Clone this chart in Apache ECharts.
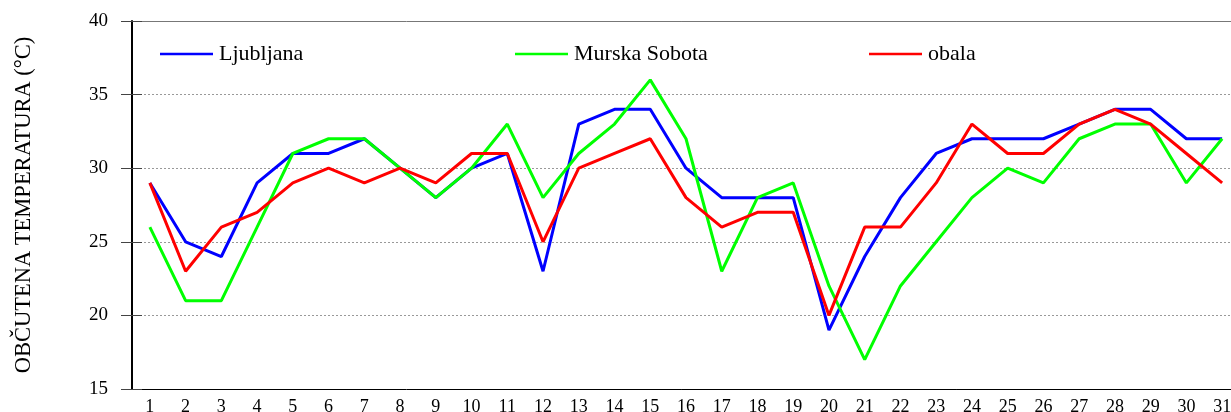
<!DOCTYPE html>
<html lang="sl">
	<head>
		<meta charset="UTF-8">
		<title>Občutena temperatura</title>
		<script src="https://cdn.jsdelivr.net/npm/echarts@6/dist/echarts.min.js"></script>
		<style>
			html, body {
				margin: 0;
				padding: 0;
				background: #fff;
			}
			#main {
				width: 1231px;
				height: 412px;
			}
		</style>
	</head>

	<body>
		<div id="main"></div>
	</body>

	<script>
		// dnevi v mesecu
		const days = [];
		for (let d = 1; d <= 31; d++) days.push(String(d));

		const ljubljana = [29, 25, 24, 29, 31, 31, 32, 30, 28, 30, 31, 23, 33, 34, 34, 30,
			28, 28, 28, 19, 24, 28, 31, 32, 32, 32, 33, 34, 34, 32, 32];
		const murskaSobota = [26, 21, 21, 26, 31, 32, 32, 30, 28, 30, 33, 28, 31, 33, 36, 32,
			23, 28, 29, 22, 17, 22, 25, 28, 30, 29, 32, 33, 33, 29, 32];
		const obala = [29, 23, 26, 27, 29, 30, 29, 30, 29, 31, 31, 25, 30, 31, 32, 28,
			26, 27, 27, 20, 26, 26, 29, 33, 31, 31, 33, 34, 33, 31, 29];

		const seriesNames = ["Ljubljana", "Murska Sobota", "obala"];
		const seriesColors = ["#0000ff", "#00ff00", "#ff0000"];
		const legendLeft = [155, 510, 864];

		const font = "'Liberation Serif', 'DejaVu Serif', serif";

		let dom = document.getElementById("main");
		let chart = echarts.init(dom);

		let legends = seriesNames.map((name, i) => ({
			data: [name],
			left: legendLeft[i],
			top: 38,
			icon: 'rect',
			itemWidth: 53,
			itemHeight: 2.5,
			itemGap: 11,
			textStyle: {
				fontFamily: font,
				fontSize: 22,
				color: '#000',
				padding: [0, 0, 0, 1]
			}
		}));

		let option = {
			animation: false,
			legend: legends,
			grid: {
				left: 132,
				right: -9,
				top: 21,
				bottom: 23,
				outerBoundsMode: 'none',
				containLabel: false
			},
			xAxis: [{
				type: 'category',
				data: days,
				boundaryGap: true,
				axisLine: {
					lineStyle: { color: '#000', width: 1 }
				},
				axisTick: {
					alignWithLabel: true,
					length: 5,
					lineStyle: { color: '#000' }
				},
				axisLabel: {
					margin: 9,
					interval: 0,
					fontFamily: font,
					fontSize: 18,
					color: '#000'
				}
			}, {
				type: 'category',
				data: days,
				position: 'bottom',
				boundaryGap: true,
				axisLine: { show: false },
				axisTick: {
					inside: true,
					alignWithLabel: true,
					length: 6,
					lineStyle: { color: '#000' }
				},
				axisLabel: { show: false }
			}, {
				type: 'category',
				data: days,
				position: 'top',
				axisLine: {
					lineStyle: { color: '#777', width: 1 }
				},
				axisTick: { show: false },
				axisLabel: { show: false }
			}],
			yAxis: [{
				type: 'value',
				min: 15,
				max: 40,
				interval: 5,
				name: 'OBČUTENA TEMPERATURA (°C)',
				nameLocation: 'middle',
				nameGap: 96,
				nameTextStyle: {
					fontFamily: font,
					fontSize: 22.5,
					color: '#000'
				},
				axisLine: {
					show: true,
					lineStyle: { color: '#000', width: 2 }
				},
				axisTick: {
					show: true,
					length: 11,
					lineStyle: { color: '#444' }
				},
				axisLabel: {
					margin: 24,
					fontFamily: font,
					fontSize: 19,
					color: '#000'
				},
				splitLine: {
					show: true,
					lineStyle: { color: '#999', type: [2, 2], width: 1 }
				}
			}, {
				type: 'value',
				min: 15,
				max: 40,
				interval: 5,
				position: 'left',
				axisLine: { show: false },
				axisTick: {
					show: true,
					inside: true,
					length: 10,
					lineStyle: { color: '#444' }
				},
				axisLabel: { show: false },
				splitLine: { show: false }
			}],
			series: [
				ljubljana, murskaSobota, obala
			].map((values, i) => ({
				name: seriesNames[i],
				type: 'line',
				data: values,
				showSymbol: false,
				symbol: 'none',
				color: seriesColors[i],
				lineStyle: { width: 3, color: seriesColors[i] },
				z: 3 + i
			}))
		};

		chart.setOption(option);
	</script>
</html>
